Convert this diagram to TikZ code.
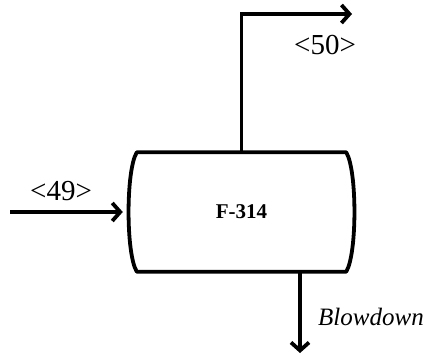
\documentclass[tikz,border=0pt]{standalone}
\usepackage{fontspec}
\setmainfont{Liberation Serif}
\usetikzlibrary{positioning, arrows.meta, calc}

\begin{document}
\begin{tikzpicture}[
    x=1pt, y=1pt,
    vessel/.style={rectangle, minimum width=237pt, minimum height=119pt, inner sep=0pt, font=\fontsize{21}{24}\selectfont\bfseries},
    pipe/.style={line width=3.8pt},
    arrow/.style={pipe, -{Straight Barb[length=8pt, width=18pt, line width=3.8pt]}},
    stream/.style={font=\fontsize{29}{34}\selectfont, inner sep=0pt}
]
    \useasboundingbox (0,0) rectangle (432,357);
    \node [vessel] (f314) at (241.5,145) {F-314};
    % vessel outline
    \draw [pipe, line join=round]
        ($(f314.north west)+(14,0)$) -- ($(f314.north east)+(-14,0)$)
        .. controls ($(f314.east)+(-3,42)$) and ($(f314.east)+(-3,-42)$) .. ($(f314.south east)+(-14,0)$)
        -- ($(f314.south west)+(14,0)$)
        .. controls ($(f314.west)+(3,-42)$) and ($(f314.west)+(3,42)$) .. cycle;

    \coordinate (in49) at (10,145);
    \coordinate (out50) at (352,343);
    \coordinate (bd) at (300,4);

    \draw [arrow] (in49) -- (f314.west);
    \draw [arrow] (f314.north) |- (out50);
    \draw [arrow] (f314.south -| bd) -- (bd);

    \node [stream] (l49) at (61,166) {<49>};
    \node [stream] (l50) at (325,312) {<50>};
    \node [stream, anchor=west, font=\fontsize{25}{30}\selectfont\itshape] (lbd) at (318,40) {Blowdown};
\end{tikzpicture}
\end{document}
